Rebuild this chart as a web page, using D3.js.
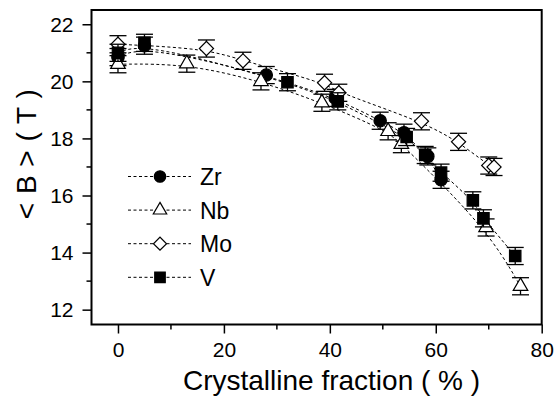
<!DOCTYPE html>
<html>
<head>
<meta charset="utf-8">
<script src="https://cdn.jsdelivr.net/npm/d3@7"></script>
<style>
  body { margin: 0; background: #fff; }
  svg { display: block; }
  text { font-family: Arial, "Liberation Sans", Helvetica, sans-serif; fill: #000; }
</style>
</head>
<body>
<svg id="chart" width="556" height="398"></svg>
<script>
// values
var zrX = [0, 5, 28, 41, 49.5, 54, 58.5, 61]
var zrY = [20.85, 21.25, 20.22, 19.42, 18.62, 18.2, 17.37, 16.55]
var nbX = [0, 13, 27, 38.5, 51, 53.5, 69.5, 76]
var nbY = [20.6, 20.62, 20.0, 19.25, 18.25, 17.8, 14.88, 12.82]
var moX = [0, 16.7, 23.6, 39, 41.7, 57.3, 64.3, 70, 71]
var moY = [21.3, 21.15, 20.72, 19.95, 19.6, 18.6, 17.88, 17.05, 17.0]
var vX = [0, 5, 32, 41.5, 54.5, 58, 61, 67, 69, 75]
var vY = [21.0, 21.35, 19.97, 19.3, 18.05, 17.42, 16.8, 15.83, 15.2, 13.88]
var errB = 0.3

var seriesNames = ["Zr", "Nb", "Mo", "V"]
var xTicks = [0, 20, 40, 60, 80]
var yTicks = [12, 14, 16, 18, 20, 22]

var svg = d3.select("#chart")
var pLeft = 91.5, pRight = 541.7, pTop = 10, pBottom = 324.5

var x = d3.scaleLinear().domain([-5, 80]).range([pLeft, pRight])
var y = d3.scaleLinear().domain([11.48, 22.5]).range([pBottom, pTop])

var shapes = {
  Zr: {type: d3.symbolCircle, size: 120, fill: "#000", rot: 0},
  Nb: {type: d3.symbolTriangle, size: 92, fill: "#fff", rot: 0},
  Mo: {type: d3.symbolSquare, size: 100, fill: "#fff", rot: 45},
  V: {type: d3.symbolSquare, size: 130, fill: "#000", rot: 0}
}

var series = [
  {name: "Zr", xs: zrX, ys: zrY},
  {name: "Nb", xs: nbX, ys: nbY},
  {name: "Mo", xs: moX, ys: moY},
  {name: "V", xs: vX, ys: vY}
].map(function(s){
  s.pts = s.xs.map(function(v, i){ return {x: v, y: s.ys[i]} })
  return s
})

// axes
var xAxis = svg.append("g").attr("transform", "translate(0," + pBottom + ")")
  .call(d3.axisBottom(x).tickValues(xTicks).tickSize(9).tickSizeOuter(0).tickPadding(9))
xAxis.selectAll(".minor").data([10, 30, 50, 70]).enter().append("line")
  .attr("class", "minor")
  .attr("x1", function(d){ return x(d) }).attr("x2", function(d){ return x(d) })
  .attr("y1", 0).attr("y2", 5).attr("stroke", "#000").attr("stroke-width", 1.5)

var yAxis = svg.append("g").attr("transform", "translate(" + pLeft + ",0)")
  .call(d3.axisLeft(y).tickValues(yTicks).tickSize(9).tickSizeOuter(0).tickPadding(9))
yAxis.selectAll(".minor").data([13, 15, 17, 19, 21]).enter().append("line")
  .attr("class", "minor")
  .attr("y1", function(d){ return y(d) }).attr("y2", function(d){ return y(d) })
  .attr("x1", 0).attr("x2", -5).attr("stroke", "#000").attr("stroke-width", 1.5)

svg.selectAll(".tick line").attr("stroke-width", 1.5)
svg.selectAll(".domain").remove()
svg.selectAll(".tick text").style("font-size", "21px").style("font-family", "Arial, 'Liberation Sans', sans-serif")

// frame
svg.append("rect").attr("x", pLeft).attr("y", pTop).attr("width", pRight - pLeft).attr("height", pBottom - pTop)
  .attr("fill", "none").attr("stroke", "#000").attr("stroke-width", 2)

// fit lines
var line = d3.line().x(function(d){ return x(d.x) }).y(function(d){ return y(d.y) }).curve(d3.curveBasis)
svg.append("g").selectAll("path").data(series).enter().append("path")
  .attr("d", function(s){ return line(s.pts.slice().sort(function(a, b){ return a.x - b.x })) })
  .attr("fill", "none").attr("stroke", "#000").attr("stroke-width", 1).attr("stroke-dasharray", "3,2.5")

// error bars + markers
series.forEach(function(s){
  var g = svg.append("g")
  var eb = g.selectAll(".eb").data(s.pts).enter().append("g")
  eb.append("line")
    .attr("x1", function(d){ return x(d.x) }).attr("x2", function(d){ return x(d.x) })
    .attr("y1", function(d){ return y(d.y - errB) }).attr("y2", function(d){ return y(d.y + errB) })
    .attr("stroke", "#000").attr("stroke-width", 1.3)
  ;[-errB, errB].forEach(function(e){
    eb.append("line")
      .attr("x1", function(d){ return x(d.x) - 8.5 }).attr("x2", function(d){ return x(d.x) + 8.5 })
      .attr("y1", function(d){ return y(d.y + e) }).attr("y2", function(d){ return y(d.y + e) })
      .attr("stroke", "#000").attr("stroke-width", 1.3)
  })
  var sh = shapes[s.name]
  g.selectAll(".m").data(s.pts).enter().append("path")
    .attr("d", d3.symbol().type(sh.type).size(sh.size))
    .attr("transform", function(d){ return "translate(" + x(d.x) + "," + y(d.y) + ") rotate(" + sh.rot + ")" })
    .attr("fill", sh.fill).attr("stroke", "#000").attr("stroke-width", 1.2)
})

// legend
var leg = svg.append("g").selectAll("g").data(seriesNames).enter().append("g")
  .attr("transform", function(d, i){ return "translate(0," + (176.5 + i * 33.6) + ")" })
leg.append("line").attr("x1", 128).attr("x2", 191).attr("y1", 0).attr("y2", 0)
  .attr("stroke", "#000").attr("stroke-width", 1).attr("stroke-dasharray", "3,2.5")
leg.append("path")
  .attr("d", function(d){ return d3.symbol().type(shapes[d].type).size(shapes[d].size * 0.85)() })
  .attr("transform", function(d){ return "translate(160,0) rotate(" + shapes[d].rot + ")" })
  .attr("fill", function(d){ return shapes[d].fill }).attr("stroke", "#000").attr("stroke-width", 1.2)
leg.append("text").attr("x", 200).attr("y", 8.5).style("font-size", "23px").text(function(d){ return d })

// axis titles
svg.append("text").attr("x", 331.5).attr("y", 390).attr("text-anchor", "middle")
  .style("font-size", "28px").text("Crystalline fraction ( % )")
svg.append("text").attr("transform", "translate(36,154) rotate(-90)").attr("text-anchor", "middle")
  .style("font-size", "28px").style("letter-spacing", "0.5px").text("< B > ( T )")
</script>
</body>
</html>
